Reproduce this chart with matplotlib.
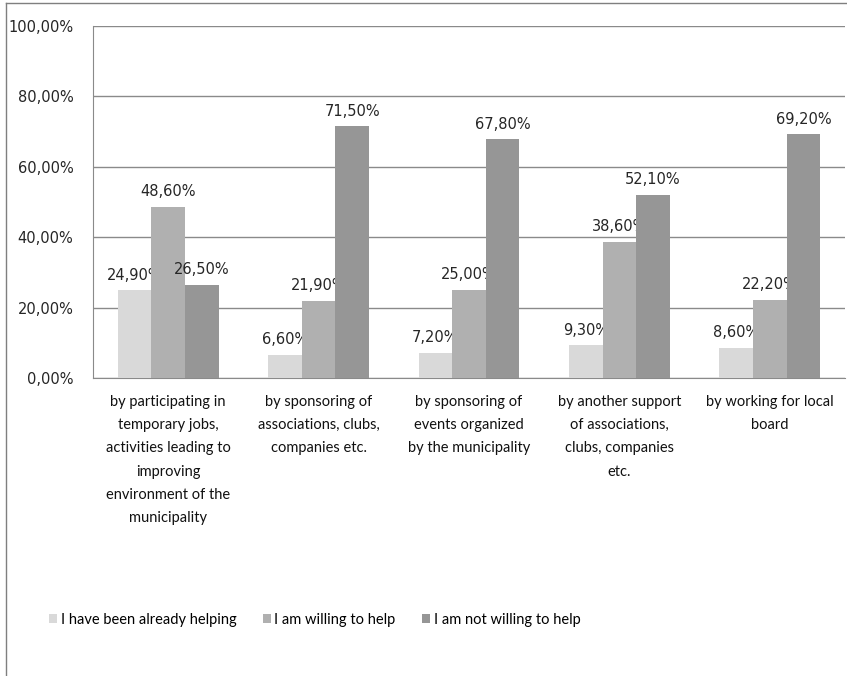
import numpy as np
import matplotlib.pyplot as plt
from matplotlib.lines import Line2D
from matplotlib.patches import Patch

# survey answers per kind of help (%)
categories = [
    "by participating in\ntemporary jobs,\nactivities leading to\nimproving\nenvironment of the\nmunicipality",
    "by sponsoring of\nassociations, clubs,\ncompanies etc.",
    "by sponsoring of\nevents organized\nby the municipality",
    "by another support\nof associations,\nclubs, companies\netc.",
    "by working for local\nboard",
]
series_names = ["I have been already helping", "I am willing to help", "I am not willing to help"]
already_helping = [24.9, 6.6, 7.2, 9.3, 8.6]
willing = [48.6, 21.9, 25.0, 38.6, 22.2]
not_willing = [26.5, 71.5, 67.8, 52.1, 69.2]
y_ticks = [0, 20, 40, 60, 80, 100]

colors = ["#d9d9d9", "#b0b0b0", "#969696"]
label_font = ["Lato", "DejaVu Sans"]

fig = plt.figure(figsize=(8.47, 6.76), dpi=100)
ax = fig.add_axes([93 / 847, 298 / 676, 752 / 847, 352 / 676])

x = np.arange(len(categories))
w = 0.223
for i, (vals, col) in enumerate(zip([already_helping, willing, not_willing], colors)):
    pos = x + (i - 1) * w
    ax.bar(pos, vals, width=w, color=col, edgecolor="none", zorder=3)
    for px, v in zip(pos, vals):
        ax.annotate(f"{v:.2f}%".replace(".", ","), (px, v), xytext=(0, 5.5),
                    textcoords="offset points", ha="center", va="bottom",
                    fontsize=10.5, color="#262626")

ax.set_xlim(-0.5, len(categories) - 0.5)
ax.set_ylim(0, 100)
ax.set_yticks(y_ticks)
ax.set_yticklabels([f"{t:.2f}%".replace(".", ",") for t in y_ticks], fontsize=10.5, color="#262626")
ax.set_xticks(x)
ax.set_xticklabels(categories, fontsize=10.5, family=label_font, linespacing=1.85, color="#111111")
ax.tick_params(axis="both", length=0)
ax.tick_params(axis="y", pad=14)
ax.tick_params(axis="x", pad=12)
ax.grid(axis="y", color="#8a8a8a", linewidth=1, zorder=0)
for s in ["top", "right"]:
    ax.spines[s].set_visible(False)
for s in ["left", "bottom"]:
    ax.spines[s].set_color("#8a8a8a")

handles = [Patch(facecolor=c, edgecolor="none") for c in colors]
fig.legend(handles, series_names, loc="center left", bbox_to_anchor=(49 / 847, 1 - 620 / 676),
           ncol=3, frameon=False, handlelength=0.55, handleheight=0.55, handletextpad=0.25,
           columnspacing=1.8, borderpad=0, borderaxespad=0,
           prop={"family": label_font, "size": 10.5})

# outer chart frame (left and top edges)
fig.add_artist(Line2D([6 / 847, 6 / 847], [0, 1 - 3 / 676], color="#7f7f7f", linewidth=1))
fig.add_artist(Line2D([6 / 847, 1], [1 - 3 / 676, 1 - 3 / 676], color="#7f7f7f", linewidth=1))

fig.savefig("out.png", dpi=100)
